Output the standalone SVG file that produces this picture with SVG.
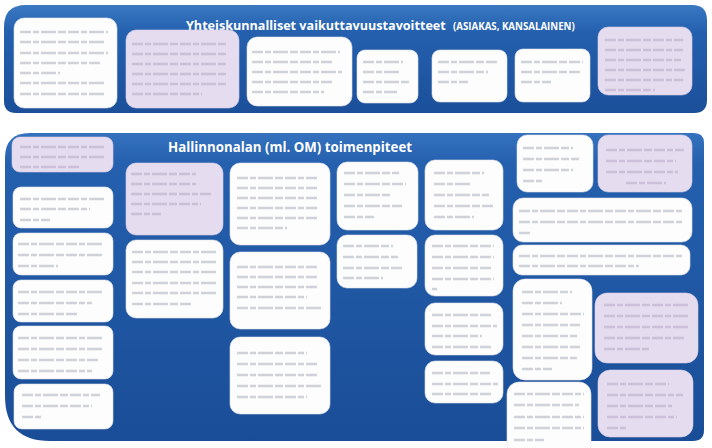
<svg xmlns="http://www.w3.org/2000/svg" width="712" height="448" viewBox="0 0 712 448">
<defs>
<linearGradient id="blue" x1="0" y1="0" x2="0" y2="1">
<stop offset="0" stop-color="#3a78c2"/>
<stop offset="0.25" stop-color="#2460ae"/>
<stop offset="1" stop-color="#1b4f9a"/>
</linearGradient>
<linearGradient id="blue2" x1="0" y1="0" x2="0" y2="1">
<stop offset="0" stop-color="#3572be"/>
<stop offset="0.1" stop-color="#2460ae"/>
<stop offset="1" stop-color="#1a4d97"/>
</linearGradient>
<style>
.w{fill:#fdfdfd;stroke:#e2e2ea;stroke-width:0.6}
.l{fill:#e6dcef;stroke:#d8cde4;stroke-width:0.6}
.t{fill:none;stroke:#d0d2da;stroke-width:2.4;stroke-dasharray:11 2 6 2 15 2 8 2}
.tl{fill:none;stroke:#cbc0d8;stroke-width:2.4;stroke-dasharray:11 2 6 2 15 2 8 2}
.h{font-family:"Open Sans","Liberation Sans",sans-serif;font-weight:bold;fill:#ffffff}
</style>
</defs>
<rect width="712" height="448" fill="#ffffff"/>
<g id="panels">
<path d="M26,5 H692 Q707,5 707,20 V100 Q707,113 694,113 H16 Q4,113 4,101 V27 Q4,5 26,5 Z" fill="url(#blue)"/>
<path d="M30,133 H694 Q704,133 704,143 V430 Q704,441 693,441 H50 Q5,441 5,396 V158 Q5,133 30,133 Z" fill="url(#blue2)"/>
<text class="h" x="186" y="30" font-size="12.6">Yhteiskunnalliset vaikuttavuustavoitteet</text>
<text class="h" x="453" y="30" font-size="9.7">(ASIAKAS, KANSALAINEN)</text>
<text class="h" x="168" y="152" font-size="15" textLength="244" lengthAdjust="spacingAndGlyphs">Hallinnonalan (ml. OM)  toimenpiteet</text>
</g>
<g id="connectors"></g>
<g id="t1"><rect class="w" x="14" y="18" width="103" height="90" rx="10"/><path class="t" d="M20,32h88M20,42h86M20,53h88M20,63h80M20,73h40M20,83h86M20,94h84"/></g>
<g id="t2"><rect class="l" x="126" y="30" width="113" height="78" rx="10"/><path class="tl" d="M132,44h95M132,54h95M132,64h95M132,74h95M132,84h95M132,94h70"/></g>
<g id="t3"><rect class="w" x="247" y="37" width="105" height="69" rx="10"/><path class="t" d="M252,52h88M252,62h80M252,72h90M252,82h80M252,92h72"/></g>
<g id="t4"><rect class="w" x="357" y="50" width="61" height="53" rx="8"/><path class="t" d="M363,62h40M363,72h38M363,82h48M363,92h34"/></g>
<g id="t5"><rect class="w" x="432" y="50" width="75" height="52" rx="8"/><path class="t" d="M438,62h60M438,72h50M438,82h30"/></g>
<g id="t6"><rect class="w" x="515" y="49" width="75" height="53" rx="8"/><path class="t" d="M521,62h62M521,72h60M521,82h30"/></g>
<g id="t7"><rect class="l" x="598" y="27" width="94" height="68" rx="10"/><path class="tl" d="M605,40h78M605,50h78M605,60h76M605,70h80M605,80h78M605,90h50"/></g>
<g id="b1"><rect class="l" x="12" y="137" width="101" height="35" rx="8"/><path class="tl" d="M20,147h86M20,157h86M20,167h60"/></g>
<g id="b2"><rect class="w" x="13" y="187" width="100" height="41" rx="8"/><path class="t" d="M20,199h86M20,209h70M20,220h30"/></g>
<g id="b3"><rect class="w" x="13" y="233" width="100" height="42" rx="8"/><path class="t" d="M18,244h84M18,255h84M18,266h40"/></g>
<g id="b4"><rect class="w" x="13" y="280" width="100" height="42" rx="8"/><path class="t" d="M18,292h86M18,303h74M18,314h60"/></g>
<g id="b5"><rect class="w" x="13" y="326" width="100" height="53" rx="8"/><path class="t" d="M18,338h86M18,349h86M18,360h80M18,371h74"/></g>
<g id="b6"><rect class="w" x="14" y="384" width="99" height="45" rx="8"/><path class="t" d="M22,395h78M22,406h70M22,417h20"/></g>
<g id="c2a"><rect class="l" x="126" y="163" width="97" height="72" rx="10"/><path class="tl" d="M131,174h65M131,184h65M131,194h80M131,204h70M131,214h30"/></g>
<g id="c2b"><rect class="w" x="126" y="240" width="97" height="78" rx="10"/><path class="t" d="M132,252h85M132,262h85M132,272h85M132,283h85M132,293h85M132,304h60"/></g>
<g id="c3a"><rect class="w" x="230" y="163" width="100" height="82" rx="10"/><path class="t" d="M237,178h80M237,188h80M237,198h80M237,208h80M237,218h80M237,228h50"/></g>
<g id="c3b"><rect class="w" x="230" y="252" width="100" height="77" rx="10"/><path class="t" d="M237,267h80M237,277h80M237,287h80M237,297h70M237,308h85"/></g>
<g id="c3c"><rect class="w" x="230" y="337" width="100" height="77" rx="10"/><path class="t" d="M237,353h70M237,364h80M237,375h80M237,386h85M237,397h70"/></g>
<g id="c4a"><rect class="w" x="337" y="162" width="81" height="68" rx="10"/><path class="t" d="M344,173h55M344,184h62M344,195h48M344,206h58M344,217h30"/></g>
<g id="c4b"><rect class="w" x="337" y="235" width="80" height="53" rx="10"/><path class="t" d="M343,246h50M343,257h55M343,268h60M343,278h40"/></g>
<g id="c5a"><rect class="w" x="425" y="160" width="78" height="70" rx="10"/><path class="t" d="M434,173h50M434,184h38M434,195h55M434,206h60M434,217h40"/></g>
<g id="c5b"><rect class="w" x="425" y="235" width="78" height="61" rx="10"/><path class="t" d="M432,246h62M432,257h62M432,268h60M432,279h62M432,289h5"/></g>
<g id="c5c"><rect class="w" x="425" y="303" width="78" height="52" rx="10"/><path class="t" d="M432,315h60M432,326h65M432,336h50M432,347h60"/></g>
<g id="c5d"><rect class="w" x="425" y="361" width="78" height="42" rx="10"/><path class="t" d="M432,373h58M432,384h66M432,394h60"/></g>
<g id="c6a"><rect class="w" x="517" y="135" width="76" height="57" rx="10"/><path class="t" d="M523,148h50M523,159h56M523,170h50M523,181h20"/></g>
<g id="c6b"><rect class="l" x="598" y="135" width="94" height="57" rx="10"/><path class="tl" d="M606,150h78M606,161h70M606,172h72M626,183h40"/></g>
<g id="w1"><rect class="w" x="513" y="198" width="179" height="44" rx="10"/><path class="t" d="M519,211h165M519,222h165M519,233h12"/></g>
<g id="w2"><rect class="w" x="513" y="245" width="177" height="30" rx="9"/><path class="t" d="M519,256h165M519,266h120"/></g>
<g id="c6c"><rect class="w" x="513" y="279" width="79" height="101" rx="12"/><path class="t" d="M522,292h50M522,303h40M522,314h62M522,325h58M522,336h55M522,347h58M522,358h55M522,369h30"/></g>
<g id="c6l2"><rect class="l" x="595" y="293" width="103" height="70" rx="12"/><path class="tl" d="M604,305h85M604,316h85M604,327h85M604,338h80M604,349h45"/></g>
<g id="c6d"><rect class="w" x="507" y="382" width="84" height="75" rx="12"/><path class="t" d="M514,394h70M514,405h65M514,417h70M514,428h70M514,440h30"/></g>
<g id="c6l3"><rect class="l" x="598" y="370" width="95" height="67" rx="12"/><path class="tl" d="M607,384h62M607,395h76M607,406h65M607,417h70M607,428h20"/></g>
</svg>
